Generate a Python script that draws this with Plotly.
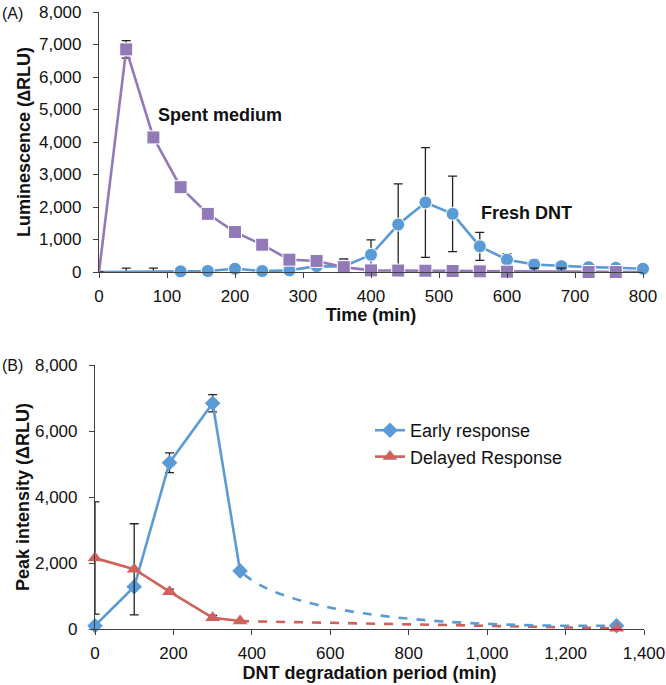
import plotly.graph_objects as go

W, H = 666, 685

# ---------------- Panel A data ----------------
time_min = [0, 40, 80, 120, 160, 200, 240, 280, 320, 360, 400, 440, 480,
            520, 560, 600, 640, 680, 720, 760, 800]
fresh_dnt = [0, 0, 0, 20, 30, 100, 30, 50, 180, 170, 530, 1460, 2140,
             1790, 790, 380, 230, 180, 150, 130, 100]
fresh_dnt_err = [0, 120, 120, 0, 0, 0, 0, 0, 0, 230, 460, 1250, 1690,
                 1160, 430, 180, 150, 60, 0, 0, 0]
spent_medium = [0, 6850, 4140, 2610, 1790, 1230, 840, 380, 340, 150, 50, 45, 40,
                30, 20, 10, 0, 0, 0, 0, 0]
spent_medium_err = [0, 270, 0, 0, 0, 0, 0, 0, 0, 0, 0, 0, 0,
                    0, 0, 0, 120, 120, 0, 0, 0]
fresh_marker_shown = [0, 0, 0, 1, 1, 1, 1, 1, 1, 1, 1, 1, 1, 1, 1, 1, 1, 1, 1, 1, 1]
spent_marker_shown = [0, 1, 1, 1, 1, 1, 1, 1, 1, 1, 1, 1, 1, 1, 1, 1, 0, 0, 1, 1, 0]

# ---------------- Panel B data ----------------
period_min = [0, 100, 190, 300, 370]
early_response = [100, 1280, 5040, 6840, 1760]
early_err = [0, 0, 300, 260, 0]
delayed_response = [2150, 1810, 1130, 340, 240]
delayed_err = [1700, 1380, 80, 70, 0]
tail_period = [370, 1330]
early_tail = [1760, 100]
delayed_tail = [240, 20]

BLUE = "#5B9BD5"
PURPLE = "#9279B8"
RED = "#D0605C"
AXC = "#404040"
FONT = "Liberation Sans, Arial, sans-serif"


def px_x(p):
    return p / W


def px_y(p):
    return 1 - p / H


xA = [px_x(99), px_x(643)]
yA = [px_y(272), px_y(12)]
xB = [px_x(95), px_x(644)]
yB = [px_y(629), px_y(365)]
B_MAX = 1400
xC = [xB[0] + tail_period[0] / B_MAX * (xB[1] - xB[0]), xB[1]]

err_style = dict(type="data", color="#222", thickness=1.3, width=4.5)

fig = go.Figure()

# Panel A
fig.add_trace(go.Scatter(
    x=time_min, y=fresh_dnt, mode="lines+markers", name="Fresh DNT",
    line=dict(color=BLUE, width=2.6),
    marker=dict(symbol="circle", size=[13 * s for s in fresh_marker_shown],
                color=BLUE, opacity=1),
    error_y=dict(array=fresh_dnt_err, **err_style),
    xaxis="x", yaxis="y", cliponaxis=False, showlegend=False))
fig.add_trace(go.Scatter(
    x=time_min, y=spent_medium, mode="lines+markers", name="Spent medium",
    line=dict(color=PURPLE, width=2.6),
    marker=dict(symbol="square", size=[13 * s for s in spent_marker_shown],
                color=PURPLE, opacity=1),
    error_y=dict(array=spent_medium_err, **err_style),
    xaxis="x", yaxis="y", cliponaxis=False, showlegend=False))

# Panel B dashed tails
fig.add_trace(go.Scatter(
    x=period_min[-2:] + tail_period[1:], y=early_response[-2:] + early_tail[1:],
    mode="lines", line=dict(color=BLUE, width=2.6, dash="dash", shape="spline", smoothing=1.0),
    xaxis="x3", yaxis="y3", showlegend=False, hoverinfo="skip"))
fig.add_trace(go.Scatter(
    x=tail_period, y=delayed_tail, mode="lines",
    line=dict(color=RED, width=2.6, dash="dash"),
    xaxis="x2", yaxis="y2", showlegend=False))
fig.add_trace(go.Scatter(
    x=tail_period[1:], y=early_tail[1:], mode="markers",
    marker=dict(symbol="diamond", size=12, color=BLUE),
    xaxis="x2", yaxis="y2", cliponaxis=False, showlegend=False))
fig.add_trace(go.Scatter(
    x=tail_period[1:], y=delayed_tail[1:], mode="markers",
    marker=dict(symbol="triangle-up", size=13, color=RED),
    xaxis="x2", yaxis="y2", cliponaxis=False, showlegend=False))

# Panel B solid
fig.add_trace(go.Scatter(
    x=period_min, y=early_response, mode="lines+markers", name="Early response",
    line=dict(color=BLUE, width=2.6),
    marker=dict(symbol="diamond", size=12, color=BLUE),
    error_y=dict(array=early_err, **err_style),
    xaxis="x2", yaxis="y2", cliponaxis=False))
fig.add_trace(go.Scatter(
    x=period_min, y=delayed_response, mode="lines+markers", name="Delayed Response",
    line=dict(color=RED, width=2.6),
    marker=dict(symbol="triangle-up", size=13, color=RED),
    error_y=dict(array=delayed_err, **err_style),
    xaxis="x2", yaxis="y2", cliponaxis=False))

axis_common = dict(showline=True, linecolor=AXC, linewidth=1.2, ticks="outside",
                   ticklen=5, tickwidth=1.2, tickcolor=AXC, showgrid=False,
                   zeroline=False, tickfont=dict(size=17, color="#111"),
                   tickformat=",d", automargin=False)
x_common = dict(axis_common, ticklabelstandoff=3)
y_common = dict(axis_common, ticklabelstandoff=8)

fig.update_layout(
    template="none",
    width=W, height=H, margin=dict(l=0, r=0, t=0, b=0, pad=0),
    paper_bgcolor="white", plot_bgcolor="rgba(0,0,0,0)",
    font=dict(family=FONT, color="#111"),
    xaxis=dict(domain=xA, range=[0, 800], dtick=100, anchor="y",
               title=dict(text="<b>Time (min)</b>", font=dict(size=18), standoff=2),
               **x_common),
    yaxis=dict(domain=yA, range=[0, 8000], dtick=1000, anchor="x", **y_common),
    xaxis2=dict(domain=xB, range=[0, B_MAX], dtick=200, anchor="y2",
                title=dict(text="<b>DNT degradation period (min)</b>", font=dict(size=18), standoff=4),
                **x_common),
    yaxis2=dict(domain=yB, range=[0, 8000], dtick=2000, anchor="x2", **y_common),
    xaxis3=dict(domain=xC, range=[tail_period[0], B_MAX], anchor="y3", visible=False),
    yaxis3=dict(domain=yB, range=[0, 8000], anchor="x3", visible=False),
    legend=dict(x=px_x(370), y=px_y(412), xanchor="left", yanchor="top",
                font=dict(size=18, color="#111"), bgcolor="rgba(0,0,0,0)",
                itemwidth=30, tracegroupgap=0),
    showlegend=True,
    annotations=[
        dict(text="(A)", x=0, y=px_y(13), xref="paper", yref="paper",
             xanchor="left", yanchor="middle", showarrow=False, font=dict(size=16)),
        dict(text="(B)", x=0, y=px_y(366), xref="paper", yref="paper",
             xanchor="left", yanchor="middle", showarrow=False, font=dict(size=16)),
        dict(text="<b>Luminescence (∆RLU)</b>", x=px_x(24), y=(yA[0] + yA[1]) / 2,
             xref="paper", yref="paper", textangle=-90, xanchor="center",
             yanchor="middle", showarrow=False, font=dict(size=18)),
        dict(text="<b>Peak intensity (ΔRLU)</b>", x=px_x(23), y=(yB[0] + yB[1]) / 2,
             xref="paper", yref="paper", textangle=-90, xanchor="center",
             yanchor="middle", showarrow=False, font=dict(size=18)),
        dict(text="<b>Spent medium</b>", x=178, y=4830, xref="x", yref="y",
             showarrow=False, font=dict(size=18)),
        dict(text="<b>Fresh DNT</b>", x=629, y=1815, xref="x", yref="y",
             showarrow=False, font=dict(size=18)),
    ],
)

fig.write_html(
    "out.html",
    config={"displayModeBar": False},
    post_script="document.body.style.margin='0';document.body.style.padding='0';"
                "document.body.style.overflow='hidden';",
)
